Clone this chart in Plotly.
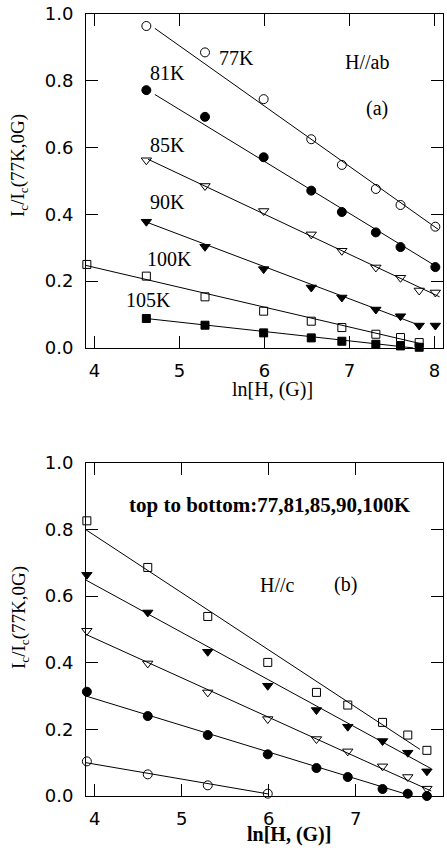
import plotly.graph_objects as go

# ---------------- data: panel (a) H//ab ----------------
xa_77 = [4.61, 5.30, 5.99, 6.55, 6.91, 7.31, 7.60, 8.01]
ya_77 = [0.964, 0.885, 0.745, 0.625, 0.548, 0.476, 0.428, 0.363]
xa_81 = [4.61, 5.30, 5.99, 6.55, 6.91, 7.31, 7.60, 8.01]
ya_81 = [0.772, 0.692, 0.571, 0.471, 0.407, 0.346, 0.302, 0.242]
xa_85 = [4.61, 5.30, 5.99, 6.55, 6.91, 7.31, 7.60, 7.82, 8.01]
ya_85 = [0.562, 0.485, 0.410, 0.340, 0.291, 0.241, 0.210, 0.172, 0.166]
xa_90 = [4.61, 5.30, 5.99, 6.55, 6.91, 7.31, 7.60, 7.82, 8.01]
ya_90 = [0.378, 0.303, 0.236, 0.181, 0.151, 0.115, 0.095, 0.067, 0.067]
xa_100 = [3.91, 4.61, 5.30, 5.99, 6.55, 6.91, 7.31, 7.60, 7.82]
ya_100 = [0.250, 0.215, 0.153, 0.110, 0.080, 0.061, 0.041, 0.031, 0.016]
xa_105 = [4.61, 5.30, 5.99, 6.55, 6.91, 7.31, 7.60, 7.82]
ya_105 = [0.088, 0.068, 0.045, 0.030, 0.020, 0.011, 0.006, 0.002]

# fitted line end points, panel (a)
fa_77 = ([4.71, 8.05], [0.957, 0.354])
fa_81 = ([4.71, 8.06], [0.759, 0.238])
fa_85 = ([4.63, 8.06], [0.565, 0.153])
fa_90 = ([4.63, 7.80], [0.375, 0.070])
fa_100 = ([3.90, 7.85], [0.247, 0.012])
fa_105 = ([4.61, 7.75], [0.088, 0.000])

# ---------------- data: panel (b) H//c ----------------
xb = [3.91, 4.61, 5.30, 5.99, 6.55, 6.91, 7.31, 7.60, 7.82]
yb_77 = [0.826, 0.686, 0.539, 0.401, 0.311, 0.273, 0.221, 0.183, 0.137]
yb_81 = [0.664, 0.551, 0.433, 0.331, 0.258, 0.208, 0.165, 0.130, 0.074]
yb_85 = [0.496, 0.398, 0.311, 0.231, 0.171, 0.134, 0.089, 0.057, 0.022]
yb_90 = [0.313, 0.240, 0.183, 0.125, 0.084, 0.057, 0.021, 0.007, 0.000]
xb_100 = [3.91, 4.61, 5.30, 5.99]
yb_100 = [0.104, 0.065, 0.032, 0.007]

fb_77 = ([3.90, 7.74], [0.799, 0.140])
fb_81 = ([3.90, 7.87], [0.648, 0.082])
fb_85 = ([3.90, 7.87], [0.485, 0.015])
fb_90 = ([3.90, 7.65], [0.300, 0.000])
fb_100 = ([3.90, 6.00], [0.100, 0.006])

x_ticks = [4, 5, 6, 7, 8]
y_ticks = [0.0, 0.2, 0.4, 0.6, 0.8, 1.0]
y_ticklabels = ["0.0", "0.2", "0.4", "0.6", "0.8", "1.0"]

fig = go.Figure()

def add_series(x, y, symbol, size, xa, ya):
    fig.add_trace(go.Scatter(
        x=x, y=y, mode="markers", xaxis=xa, yaxis=ya, cliponaxis=False,
        marker=dict(symbol=symbol, size=size, color="black",
                    line=dict(color="black", width=1)),
        showlegend=False))

def add_fit(f, xa, ya):
    fig.add_trace(go.Scatter(
        x=f[0], y=f[1], mode="lines", xaxis=xa, yaxis=ya,
        line=dict(color="black", width=1), showlegend=False, cliponaxis=False))

for f in [fa_77, fa_81, fa_85, fa_90, fa_100, fa_105]:
    add_fit(f, "x", "y")
add_series(xa_77, ya_77, "circle-open", 9, "x", "y")
add_series(xa_81, ya_81, "circle", 9, "x", "y")
add_series(xa_85, ya_85, "triangle-down-open", 9, "x", "y")
add_series(xa_90, ya_90, "triangle-down", 9, "x", "y")
add_series(xa_100, ya_100, "square-open", 8, "x", "y")
add_series(xa_105, ya_105, "square", 8, "x", "y")

for f in [fb_77, fb_81, fb_85, fb_90, fb_100]:
    add_fit(f, "x2", "y2")
add_series(xb, yb_77, "square-open", 8, "x2", "y2")
add_series(xb, yb_81, "triangle-down", 9, "x2", "y2")
add_series(xb, yb_85, "triangle-down-open", 9, "x2", "y2")
add_series(xb, yb_90, "circle", 9, "x2", "y2")
add_series(xb_100, yb_100, "circle-open", 9, "x2", "y2")

tickfont = dict(family="DejaVu Sans", size=18, color="black")
axis_common = dict(showline=True, linecolor="black", linewidth=1, mirror="allticks",
                   ticks="inside", ticklen=12, tickwidth=1, tickcolor="black",
                   showgrid=False, zeroline=False, tickfont=tickfont)

fig.update_layout(
    width=447, height=848,
    margin=dict(l=86, r=4, t=14, b=52),
    paper_bgcolor="white", plot_bgcolor="white",
    xaxis=dict(domain=[0, 1], range=[3.9, 8.1], anchor="y", tickvals=x_ticks,
               ticklabelstandoff=6, **axis_common),
    yaxis=dict(domain=[0.573, 1.0], range=[0, 1.0], anchor="x", tickvals=y_ticks,
               ticktext=y_ticklabels, ticklabelstandoff=8, **axis_common),
    xaxis2=dict(domain=[0, 1], range=[3.9, 8.005], anchor="y2", tickvals=x_ticks,
                ticklabelstandoff=6, **axis_common),
    yaxis2=dict(domain=[0, 0.426], range=[0, 1.0], anchor="x2", tickvals=y_ticks,
                ticktext=y_ticklabels, ticklabelstandoff=8, **axis_common),
)

serif = "Liberation Serif"
lab = dict(family=serif, size=20, color="black")

def note(text, x, y, xref, yref, font=lab, angle=0):
    fig.add_annotation(text=text, x=x, y=y, xref=xref, yref=yref, showarrow=False,
                       font=font, textangle=angle, xanchor="center", yanchor="middle")

# panel (a) labels
note("77K", 5.665, 0.868, "x", "y")
note("81K", 4.853, 0.823, "x", "y")
note("85K", 4.853, 0.607, "x", "y")
note("90K", 4.853, 0.437, "x", "y")
note("100K", 4.888, 0.265, "x", "y")
note("105K", 4.63, 0.143, "x", "y")
note("H//ab", 7.206, 0.856, "x", "y")
note("(a)", 7.32, 0.718, "x", "y")

# panel (b) labels
note("<b>top to bottom:77,81,85,90,100K</b>", 6.019, 0.875, "x2", "y2",
     dict(family=serif, size=21, color="black"))
note("H//c", 6.105, 0.634, "x2", "y2")
note("(b)", 6.886, 0.634, "x2", "y2")

# axis titles
title_font = dict(family=serif, size=20, color="black")
note("ln[H, (G)]", (272 - 86) / 357, (796 - 390) / 782, "paper", "paper", title_font)
note("<b>ln[H, (G)]</b>", (289 - 86) / 357, (796 - 834) / 782, "paper", "paper", title_font)
note("I<sub>c</sub>/I<sub>c</sub>(77K,0G)", (19 - 86) / 357, (796 - 166) / 782,
     "paper", "paper", dict(family=serif, size=19, color="black"), -90)
note("I<sub>c</sub>/I<sub>c</sub>(77K,0G)", (20 - 86) / 357, (796 - 618) / 782,
     "paper", "paper", dict(family=serif, size=19, color="black"), -90)

fig.write_html("out.html",
               config={"displayModeBar": False},
               post_script="document.body.style.margin='0';"
                           "document.body.style.overflow='hidden';")
